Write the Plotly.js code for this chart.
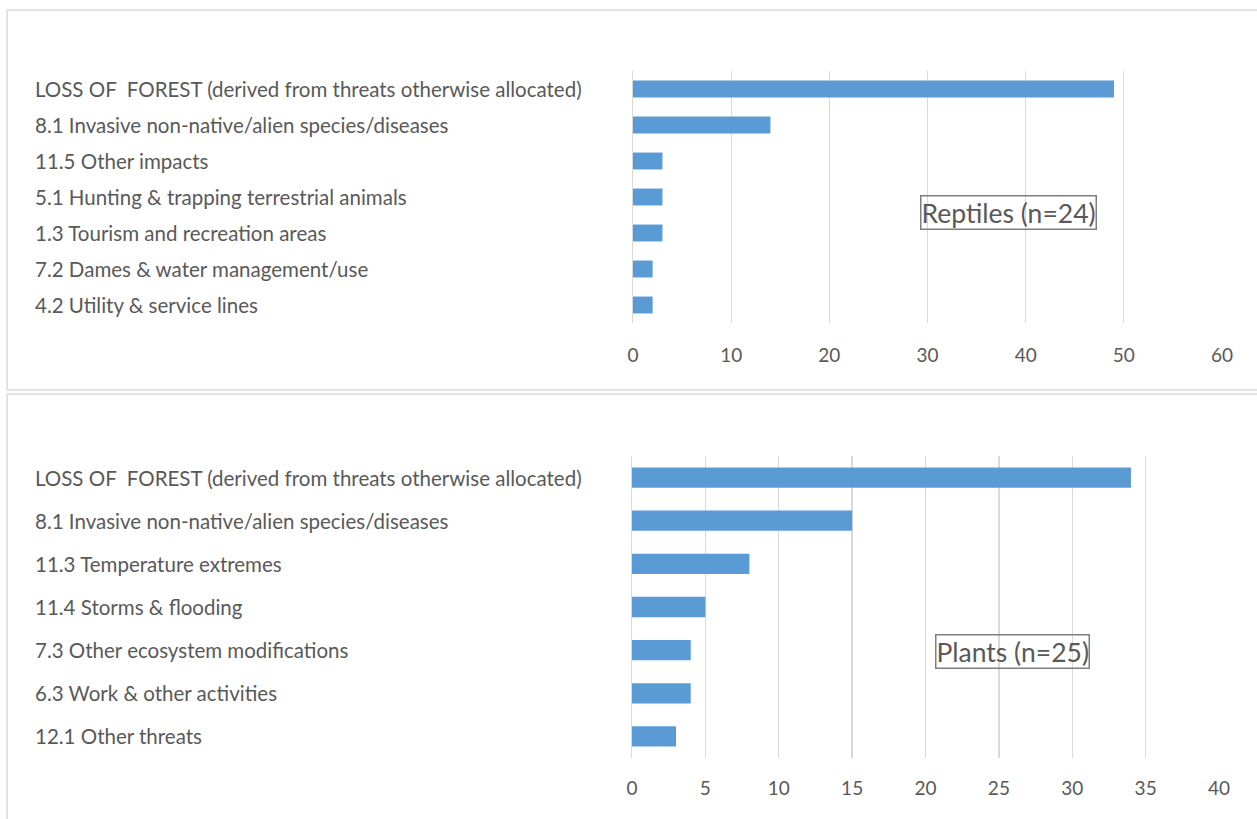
<!DOCTYPE html>
<html>
<head>
<meta charset="utf-8">
<script src="https://cdn.plot.ly/plotly-3.0.1.min.js"></script>
<style>html,body{margin:0;padding:0;background:#fff;}#chart{width:1257px;height:819px;}</style>
</head>
<body>
<div id="chart"></div>
<script>
const reptileCategories = [
  "LOSS OF  FOREST (derived from threats otherwise allocated)",
  "8.1 Invasive non-native/alien species/diseases",
  "11.5 Other impacts",
  "5.1 Hunting & trapping terrestrial animals",
  "1.3 Tourism and recreation areas",
  "7.2 Dames & water management/use",
  "4.2 Utility & service lines"
];
const reptileValues = [49, 14, 3, 3, 3, 2, 2];
const reptileTicks = [0, 10, 20, 30, 40, 50, 60];
const reptileLabel = "Reptiles (n=24)";

const plantCategories = [
  "LOSS OF  FOREST (derived from threats otherwise allocated)",
  "8.1 Invasive non-native/alien species/diseases",
  "11.3 Temperature extremes",
  "11.4 Storms & flooding",
  "7.3 Other ecosystem modifications",
  "6.3 Work & other activities",
  "12.1 Other threats"
];
const plantValues = [34, 15, 8, 5, 4, 4, 3];
const plantTicks = [0, 5, 10, 15, 20, 25, 30, 35, 40];
const plantLabel = "Plants (n=25)";

const W = 1257, H = 819;
const px = v => v / W;
const py = v => 1 - v / H;

const FONT = "Lato, 'Open Sans', sans-serif";
const GRAY = "#595959";
const GRID = "#d9d9d9";
const BAR = "#5B9BD5";

const traces = [
  {type: "bar", orientation: "h", x: reptileValues, y: reptileCategories,
   xaxis: "x", yaxis: "y", marker: {color: BAR}, hoverinfo: "x+y"},
  {type: "bar", orientation: "h", x: plantValues, y: plantCategories.map(c => c + " "),
   xaxis: "x2", yaxis: "y2", marker: {color: BAR}, hoverinfo: "x+y"}
];

const annotations = [];
reptileCategories.forEach(c => annotations.push({
  text: c, xref: "paper", x: px(33), xanchor: "left", yref: "y", y: c,
  yanchor: "middle", showarrow: false, font: {family: FONT, size: 20.5, color: GRAY}
}));
plantCategories.forEach(c => annotations.push({
  text: c, xref: "paper", x: px(33), xanchor: "left", yref: "y2", y: c + " ",
  yanchor: "middle", showarrow: false, font: {family: FONT, size: 20.5, color: GRAY}
}));
annotations.push({
  text: reptileLabel, xref: "x", x: 38.2, yref: "paper", y: py(213),
  xanchor: "center", yanchor: "middle", showarrow: false,
  font: {family: FONT, size: 26.5, color: GRAY},
  bordercolor: "#7f7f7f", borderwidth: 1.5, borderpad: 0, bgcolor: "rgba(255,255,255,0)"
});
annotations.push({
  text: plantLabel, xref: "x2", x: 25.9, yref: "paper", y: py(651),
  xanchor: "center", yanchor: "middle", showarrow: false,
  font: {family: FONT, size: 26.5, color: GRAY},
  bordercolor: "#7f7f7f", borderwidth: 1.5, borderpad: 0, bgcolor: "rgba(255,255,255,0)"
});

const shapes = [
  {type: "rect", xref: "paper", yref: "paper", x0: px(7), x1: px(1262), y0: py(390), y1: py(10),
   line: {color: "#e3e3e3", width: 2}},
  {type: "rect", xref: "paper", yref: "paper", x0: px(7), x1: px(1262), y0: py(830), y1: py(394),
   line: {color: "#e3e3e3", width: 2}}
];

const xcommon = {
  showgrid: true, gridcolor: GRID, gridwidth: 1.3, zeroline: false, showline: false,
  ticks: "", tickfont: {family: FONT, size: 19, color: GRAY}, fixedrange: true
};
const ycommon = {
  showticklabels: false, showgrid: false, zeroline: false, showline: true,
  linecolor: GRID, linewidth: 1.3, ticks: "", autorange: "reversed", type: "category", fixedrange: true
};

const layout = {
  width: W, height: H,
  margin: {l: 0, r: 0, t: 0, b: 0},
  paper_bgcolor: "#fff", plot_bgcolor: "rgba(0,0,0,0)",
  showlegend: false, bargap: 0.53,
  xaxis: Object.assign({}, xcommon, {domain: [px(633), px(1222)], range: [0, 60],
    tickvals: reptileTicks, anchor: "y", ticklabelstandoff: 19}),
  yaxis: Object.assign({}, ycommon, {domain: [py(323), py(71)], anchor: "x"}),
  xaxis2: Object.assign({}, xcommon, {domain: [px(632), px(1219)], range: [0, 40],
    tickvals: plantTicks, anchor: "y2", ticklabelstandoff: 17}),
  yaxis2: Object.assign({}, ycommon, {domain: [py(758), py(456)], anchor: "x2"}),
  annotations: annotations,
  shapes: shapes
};

Plotly.newPlot("chart", traces, layout, {displayModeBar: false, staticPlot: true});
</script>
</body>
</html>
